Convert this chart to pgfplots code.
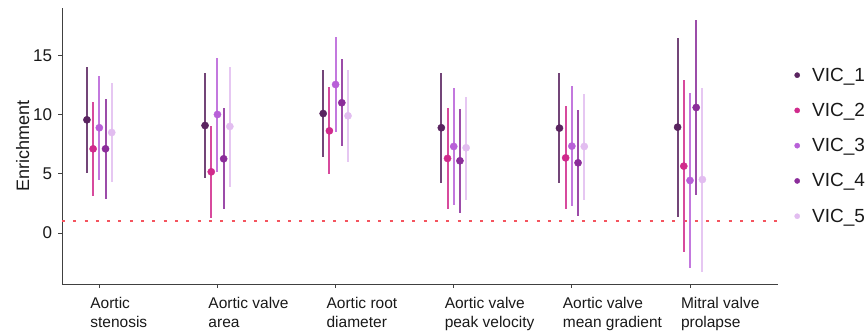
\documentclass[border=0pt]{standalone}
\usepackage{pgfplots}
\usepackage{pgfplotstable}
\pgfplotsset{compat=1.18}
\usepackage{fontspec}
\setmainfont{Liberation Sans}
\definecolor{c1}{HTML}{5A2460}
\definecolor{c2}{HTML}{D02A8C}
\definecolor{c3}{HTML}{B860D8}
\definecolor{c4}{HTML}{8B2D9A}
\definecolor{c5}{HTML}{E2BDF0}
\definecolor{refred}{RGB}{244,84,94}
\pgfplotstableread{
g y lo hi
0 9.56 5.06 14.0
1 9.08 4.61 13.55
2 10.09 6.44 13.78
3 8.89 4.24 13.55
4 8.86 4.19 13.55
5 8.94 1.38 16.5
}\vica
\pgfplotstableread{
g y lo hi
0 7.11 3.15 11.05
1 5.17 1.23 9.08
2 8.63 4.95 12.32
3 6.30 2.05 10.55
4 6.35 2.03 10.69
5 5.65 -1.64 12.9
}\vicb
\pgfplotstableread{
g y lo hi
0 8.89 4.5 13.25
1 10.01 5.17 14.82
2 12.54 8.55 16.54
3 7.31 2.33 12.26
4 7.34 2.25 12.4
5 4.44 -2.98 11.84
}\vicc
\pgfplotstableread{
g y lo hi
0 7.11 2.9 11.3
1 6.27 2.03 10.55
2 11.0 7.31 14.71
3 6.10 1.69 10.49
4 5.93 1.46 10.38
5 10.6 3.23 17.97
}\vicd
\pgfplotstableread{
g y lo hi
0 8.49 4.27 12.7
1 9.0 3.93 14.0
2 9.9 6.02 13.75
3 7.2 2.81 11.5
4 7.31 2.81 11.73
5 4.52 -3.27 12.26
}\vice
\pgfplotstableread{
x y
-0.316 1
5.745 1
}\refline
\pgfplotsset{
  vic/.style={only marks, mark=*, mark size=3.6bp, color=#1, mark options={draw=#1, fill=#1},
    error bars/y dir=both, error bars/y explicit, error bars/error mark=none,
    error bars/error bar style={line width=2bp, draw=#1!85}},
}
\begin{document}
\begin{tikzpicture}
\path[use as bounding box] (-62bp,-50bp) rectangle (806bp,284bp);
\begin{axis}[
  anchor=south west, at={(0,0)},
  scale only axis, width=716bp, height=276bp,
  xmin=-0.316, xmax=5.745, ymin=-4.3, ymax=19.0,
  axis x line*=bottom, axis y line*=left,
  axis line style={line width=0.9bp, black!75},
  tick style={line width=0.9bp, black!75},
  tick align=outside, major tick length=3.5bp,
  xtick={0,1,2,3,4,5},
  xticklabels={{Aortic\\stenosis},{Aortic valve\\area},{Aortic root\\diameter},{Aortic valve\\peak velocity},{Aortic valve\\mean gradient},{Mitral valve\\prolapse}},
  x tick label style={anchor=north west, align=left, xshift=-12.5bp, yshift=-6bp, font=\fontsize{15.5bp}{19bp}\selectfont, text=black!90},
  ytick={0,5,10,15},
  y tick label style={font=\fontsize{17bp}{20bp}\selectfont, text=black!90, xshift=-3bp},
  /pgf/number format/assume math mode=true,
  ylabel={Enrichment},
  ylabel style={font=\fontsize{18bp}{21bp}\selectfont, text=black!90, yshift=-3bp},
  legend style={draw=none, fill=none, at={(1,0.795)}, anchor=north west, xshift=10bp,
    font=\fontsize{19bp}{22bp}\selectfont, row sep=18.5bp, text=black!90,
    nodes={inner sep=1bp}},
  legend cell align=left,
  legend image code/.code={\path[draw=none] (0bp,0) -- (20bp,0); \fill (6bp,0) circle (2.6bp);},
  clip=false,
]
\addplot[forget plot, no marks, solid, line width=1.5bp, refred, dash pattern=on 3bp off 8.3bp] table[x=x, y=y] {\refline};
\addplot[vic=c1] table[x expr=\thisrow{g}-0.105, y=y, y error plus expr=\thisrow{hi}-\thisrow{y}, y error minus expr=\thisrow{y}-\thisrow{lo}] {\vica};
\addplot[vic=c2] table[x expr=\thisrow{g}-0.0525, y=y, y error plus expr=\thisrow{hi}-\thisrow{y}, y error minus expr=\thisrow{y}-\thisrow{lo}] {\vicb};
\addplot[vic=c3] table[x expr=\thisrow{g}, y=y, y error plus expr=\thisrow{hi}-\thisrow{y}, y error minus expr=\thisrow{y}-\thisrow{lo}] {\vicc};
\addplot[vic=c4] table[x expr=\thisrow{g}+0.0525, y=y, y error plus expr=\thisrow{hi}-\thisrow{y}, y error minus expr=\thisrow{y}-\thisrow{lo}] {\vicd};
\addplot[vic=c5] table[x expr=\thisrow{g}+0.105, y=y, y error plus expr=\thisrow{hi}-\thisrow{y}, y error minus expr=\thisrow{y}-\thisrow{lo}] {\vice};
\legend{VIC\_1,VIC\_2,VIC\_3,VIC\_4,VIC\_5}
\end{axis}
\end{tikzpicture}
\end{document}
